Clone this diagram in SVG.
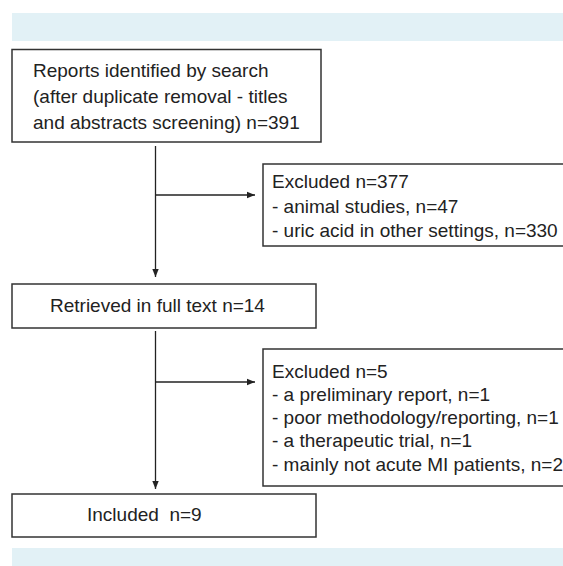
<svg xmlns="http://www.w3.org/2000/svg" width="563" height="566" viewBox="0 0 563 566">
<defs>
<marker id="ah" viewBox="0 0 10 10" refX="10" refY="5" markerWidth="8" markerHeight="8" markerUnits="userSpaceOnUse" orient="auto">
<path d="M0,1 L10,5 L0,9 Z" fill="#222"/>
</marker>
<style>
.band{fill:#e2f1f6;}
.box{fill:#fff;stroke:#333;stroke-width:1.5;}
.t{font-family:"Liberation Sans",Arial,sans-serif;font-size:19px;fill:#222;white-space:pre;}
.ln{stroke:#222;stroke-width:1.3;fill:none;}
</style>
</defs>
<rect width="563" height="566" fill="#fff"/>
<rect class="band" x="12" y="13" width="551" height="28"/>
<rect class="band" x="12" y="548" width="551" height="18"/>
<g id="connectors">
<line class="ln" x1="155.5" y1="146" x2="155.5" y2="277" marker-end="url(#ah)"/>
<line class="ln" x1="155.5" y1="195" x2="255" y2="195" marker-end="url(#ah)"/>
<line class="ln" x1="155.5" y1="331" x2="155.5" y2="489" marker-end="url(#ah)"/>
<line class="ln" x1="155.5" y1="382" x2="255" y2="382" marker-end="url(#ah)"/>
</g>
<g id="identified">
<rect class="box" x="12" y="49.5" width="309" height="92.5"/>
<text class="t" x="33" y="77">Reports identified by search</text>
<text class="t" x="33" y="103">(after duplicate removal - titles</text>
<text class="t" x="33" y="129">and abstracts screening) n=391</text>
</g>
<g id="excluded1">
<rect class="box" x="263" y="164" width="310" height="82"/>
<text class="t" x="272" y="188">Excluded n=377</text>
<text class="t" x="272" y="213">- animal studies, n=47</text>
<text class="t" x="272" y="237">- uric acid in other settings, n=330</text>
</g>
<g id="retrieved">
<rect class="box" x="12" y="284" width="304" height="44"/>
<text class="t" x="50" y="312">Retrieved in full text n=14</text>
</g>
<g id="excluded2">
<rect class="box" x="263" y="349" width="310" height="137"/>
<text class="t" x="272" y="378">Excluded n=5</text>
<text class="t" x="272" y="401">- a preliminary report, n=1</text>
<text class="t" x="272" y="424">- poor methodology/reporting, n=1</text>
<text class="t" x="272" y="447">- a therapeutic trial, n=1</text>
<text class="t" x="272" y="471">- mainly not acute MI patients, n=2</text>
</g>
<g id="included">
<rect class="box" x="12" y="494" width="304" height="43"/>
<text class="t" x="87" y="521">Included  n=9</text>
</g>
</svg>
